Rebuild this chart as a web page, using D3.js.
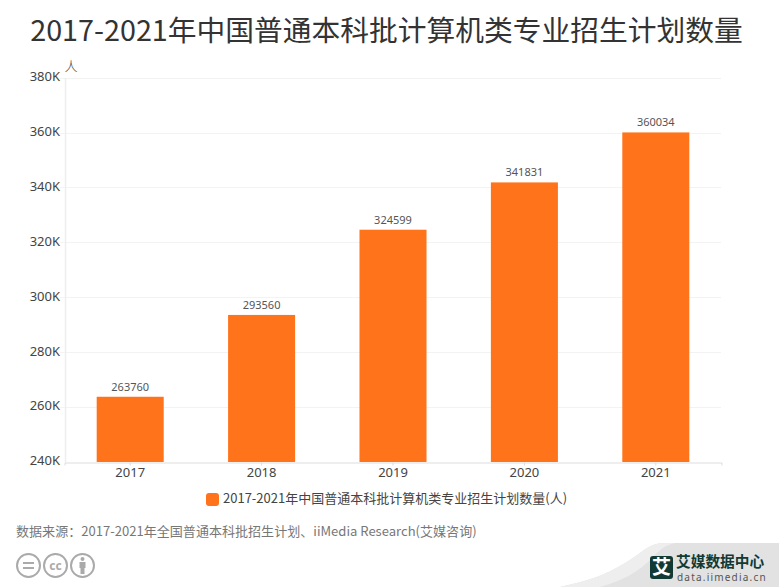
<!DOCTYPE html>
<html><head><meta charset="utf-8">
<script src="https://cdn.jsdelivr.net/npm/d3@7/dist/d3.min.js"></script>
<style>html,body{margin:0;padding:0;background:#fff}svg{display:block}text{font-family:"Noto Sans CJK SC","Noto Sans",sans-serif}</style>
</head><body><svg id="c" width="779" height="587"></svg>
<script>
const titleText="2017-2021年中国普通本科批计算机类专业招生计划数量";
const legendText="2017-2021年中国普通本科批计算机类专业招生计划数量(人)";
const sourceText="数据来源:2017-2021年全国普通本科批招生计划、iiMedia Research(艾媒咨询)";
const unitText="人";
const categories=["2017","2018","2019","2020","2021"];
const values=[263760,293560,324599,341831,360034];
const yTicks=[240000,260000,280000,300000,320000,340000,360000,380000];
const svg=d3.select("#c");
const x=d3.scaleBand().domain(categories).range([64.5,721.5]).paddingInner(0.49).paddingOuter(0.245);
const y=d3.scaleLinear().domain([240000,380000]).range([462,77.6]);
const orange="#ff731a";
svg.append("text").attr("x",386.5).attr("y",41).attr("text-anchor","middle").attr("font-size",28.75).attr("font-weight",400).attr("fill","#333").text(titleText);
// grid
svg.append("g").selectAll("line").data(yTicks.slice(1)).join("line")
 .attr("x1",60).attr("x2",721).attr("y1",d=>Math.round(y(d))+.5).attr("y2",d=>Math.round(y(d))+.5)
 .attr("stroke","#f3f3f3");
// y axis
const ya=svg.append("g").attr("transform","translate(65,0)").call(d3.axisLeft(y).tickValues(yTicks).tickFormat(d=>(d/1000)+"K").tickSize(0).tickPadding(5));
ya.select(".domain").attr("stroke","#eee").attr("stroke-width",1.5);
ya.selectAll("text").attr("font-size",13).attr("fill","#444").attr("dy","0.22em").style("font-family",'"Noto Sans","Noto Sans CJK SC",sans-serif');
svg.append("text").attr("x",71).attr("y",71).attr("text-anchor","middle").attr("font-size",13).attr("font-weight",300).attr("fill","#444").text(unitText);
// bars
svg.append("g").selectAll("rect").data(values).join("rect")
 .attr("x",(d,i)=>x(categories[i])).attr("width",x.bandwidth())
 .attr("y",d=>y(d)).attr("height",d=>y(240000)-y(d)).attr("fill",orange);
svg.append("g").selectAll("text").data(values).join("text")
 .attr("x",(d,i)=>x(categories[i])+x.bandwidth()/2).attr("y",d=>y(d)-6)
 .attr("text-anchor","middle").attr("font-size",11).attr("fill","#555")
 .style("font-family",'"Noto Sans",sans-serif').text(d=>d);
// x axis
const xa=svg.append("g").attr("transform","translate(0,462.5)").call(d3.axisBottom(x).tickSize(3).tickPadding(2));
xa.select(".domain").attr("stroke","#ddd");
xa.selectAll("line").attr("stroke","#ddd");
xa.selectAll("text").attr("font-size",13).attr("fill","#444").style("font-family",'"Noto Sans",sans-serif');
// legend
svg.append("rect").attr("x",206).attr("y",493).attr("width",13).attr("height",13).attr("rx",3).attr("fill",orange);
svg.append("text").attr("x",223).attr("y",503).attr("font-size",13).attr("fill","#444").text(legendText);
// source
svg.append("text").attr("x",16).attr("y",536).attr("font-size",13.06).attr("fill","#777").text(sourceText.replace(":","："));
// cc icons
const icons=svg.append("g").attr("fill","none").attr("stroke","#aaa").attr("stroke-width",2);
[28.5,55.5,82.5].forEach(cx=>icons.append("circle").attr("cx",cx).attr("cy",565.5).attr("r",11.5));
icons.append("path").attr("d","M23 563h11M23 568h11");
svg.append("text").attr("x",55.5).attr("y",569.5).attr("text-anchor","middle").attr("font-size",12).attr("font-weight",700).attr("fill","#aaa").style("font-family",'"Noto Sans",sans-serif').text("cc");
svg.append("circle").attr("cx",82.5).attr("cy",559).attr("r",2).attr("fill","#aaa");
svg.append("path").attr("d","M79.5 562h6v6h-1v6h-4v-6h-1z").attr("fill","#aaa");
// watermark
svg.append("path").attr("d","M779 543V587H560C600 578 610 572 630 560C645 550 650 543 665 543Z").attr("fill","#e2e2e2");
svg.append("path").attr("d","M665 543C650 543 645 550 630 560C610 572 600 578 560 587H600C625 580 640 570 650 560C658 552 662 546 675 543Z").attr("fill","#eeeeee");
svg.append("rect").attr("x",650).attr("y",556).attr("width",23).attr("height",23).attr("rx",3).attr("fill","#123a34");
svg.append("text").attr("x",661.5).attr("y",574).attr("text-anchor","middle").attr("font-size",19).attr("font-weight",700).attr("fill","#fff").text("艾");
svg.append("text").attr("x",676).attr("y",567).attr("font-size",14.7).attr("font-weight",700).attr("fill","#123a34").text("艾媒数据中心");
svg.append("text").attr("x",677).attr("y",581).attr("font-size",10).attr("letter-spacing",1.2).attr("fill","#555").style("font-family",'"Noto Sans",sans-serif').text("data.iimedia.cn");
</script></body></html>
